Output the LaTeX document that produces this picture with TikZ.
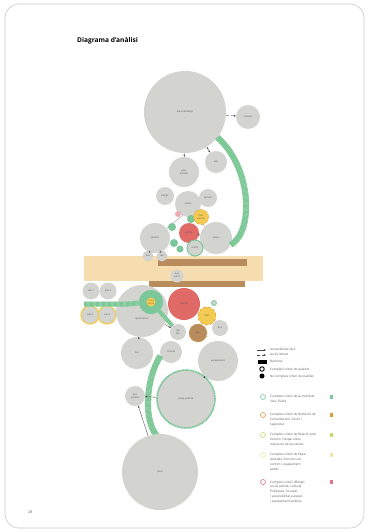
\documentclass[tikz,border=0pt]{standalone}
\usepackage{fontspec}
\setmainfont{Open Sans}
\usetikzlibrary{arrows.meta}
\definecolor{cg}{HTML}{D3D3D0}
\definecolor{txt}{HTML}{555555}
\definecolor{dk}{HTML}{444444}
\definecolor{gl}{HTML}{9ED8B0}
\definecolor{gd}{HTML}{6DBF8A}
\definecolor{gm}{HTML}{7CC79A}
\definecolor{rd}{HTML}{E06A66}
\definecolor{yl}{HTML}{F3CB52}
\definecolor{orr}{HTML}{E39A3C}
\definecolor{bg}{HTML}{F6DDB0}
\definecolor{br}{HTML}{B98C5E}
\definecolor{yg}{HTML}{C5D96A}
\definecolor{ly}{HTML}{F0E6A6}
\definecolor{pk}{HTML}{E07384}
\definecolor{frm}{HTML}{C8C8C8}
\newcommand\dlbl{\fontsize{2.4}{2.8}\selectfont}
\newcommand\leglbl{\fontsize{3.1}{4.9}\selectfont}
\begin{document}
\begin{tikzpicture}[x=1pt,y=-1pt,
  gc/.style={circle,fill=cg,inner sep=0pt,minimum size=#1pt,font=\dlbl,align=center,text=txt},
  yc/.style={circle,fill=yl,draw=orr,densely dashed,line width=0.5pt,inner sep=0pt,minimum size=#1pt,font=\dlbl,align=center,text=txt},
  yr/.style={circle,fill=cg,draw=yl,dash pattern=on 1pt off 0.4pt,line width=1.4pt,inner sep=0pt,minimum size=#1pt,font=\dlbl,align=center,text=txt},
  gr/.style={circle,fill=gm,inner sep=0pt,minimum size=#1pt},
  ar/.style={-{Stealth[length=2.2pt,width=1.8pt]},draw=dk,line width=0.35pt},
  gband/.style={line width=#1pt,draw=gl},
  gstripe/.style={line width=#1pt,draw=gd,dash pattern=on 0.5pt off 0.7pt},
  legtxt/.style={anchor=north west,font=\leglbl,align=left,text=txt,inner sep=0pt}]
\useasboundingbox (0,0) rectangle (369,532);
\fill[white] (0,0) rectangle (369,532);
\draw[frm,line width=0.6pt,rounded corners=14pt] (5,4) rectangle (364,528);
\node[anchor=south west,inner sep=0pt,font=\fontsize{6.6}{8}\selectfont\bfseries] (title) at (77,44) {Diagrama d'anàlisi};
\node[anchor=base west,inner sep=0pt,font=\fontsize{3.6}{4}\selectfont,text=txt] (pnum) at (28,513) {28};

% beige band and barriers
\fill[bg] (84,256) rectangle (263,281);
\fill[br] (158,259) rectangle (247,266);
\fill[br] (149,281) rectangle (245,287);

% top cluster
\node[gc=82] (ah) at (185,112) {àrea habitatge};
\node[gc=24] (com) at (248,117) {comerç};
\node[gc=30] (pe) at (184,172) {parc\\escoles};
\node[gc=22] (bar) at (216,162) {bar};
\draw[ar,densely dashed] (ah) -- (com);
\draw[ar] (ah) -- (pe);
\draw[ar,{Stealth[length=2.2pt,width=1.8pt]}-{Stealth[length=2.2pt,width=1.8pt]}] (ah) -- (bar);

% middle cluster
\node[gc=30] (jar) at (155,238) {jardins};
\node[gc=32] (plc) at (216,238) {plaça};
\node[gc=18] (bot) at (165,196) {botiga};
\node[gc=18] (ser) at (208,198) {serveis};
\draw[cg!80!black,line width=0.5pt] (189,210) -- (jar);
\draw[cg!80!black,line width=0.5pt] (189,210) -- (plc);
\node[gc=26] (vei) at (188,204) {veïnat};
\node[circle,fill=pk!60,inner sep=0pt,minimum size=6pt] (pk1) at (178,214) {};
\node[gr=8] (g1) at (172,227) {};
\node[gr=8] (g2) at (191,219) {};
\node[gr=8] (g3) at (174,243) {};
\node[gr=7] (g4) at (180,249) {};
\node[circle,fill=rd,inner sep=0pt,minimum size=20pt,font=\dlbl,text=txt] (esc) at (189,233) {escola};
\node[yc=15] (fon) at (201,217) {font\\central};
\node[circle,fill=cg,draw=gm,line width=1pt,inner sep=0pt,minimum size=16pt,font=\dlbl,text=txt] (met) at (195,248) {metro};
\node[gc=11] (bus) at (148,256) {bus};
\node[gc=11] (tax) at (162,256) {taxi};
\draw[ar] (jar) -- (bus);
\draw[ar] (jar) -- (tax);
\draw[ar] (esc) -- (plc);
\node[gc=13] (nus) at (177,276) {nus\\pont};

% top green band
\draw[gband=6] (ah.-38) .. controls (252,168) and (254,232) .. (plc.-25);
\draw[gstripe=6] (ah.-38) .. controls (252,168) and (254,232) .. (plc.-25);

% lower cluster
\node[gc=17] (v1) at (91,291) {vial 1};
\node[gc=17] (v2) at (108,291) {vial 2};
\node[yr=18] (v3) at (90,315) {vial 3};
\node[yr=18] (v4) at (107,315) {vial 4};
\node[gc=52] (apa) at (142,311) {\\[14pt]aparcament};
\coordinate (gs) at (84,304);
\coordinate (gm1) at (128,304);
\node[gc=16] (txb) at (178,332) {taxi\\bici};
\node[gr=24] (zv) at (151,302) {};
\draw[gband=5] (gs) -- (gm1) -- (zv);
\draw[gstripe=5] (gs) -- (gm1) -- (zv);
\draw[gband=4] (zv) -- (txb);
\draw[gstripe=4] (zv) -- (txb);
\node[gr=24] (zv2) at (151,302) {};
\node[circle,fill=yl,inner sep=0pt,minimum size=9pt,font=\dlbl,text=orr!70!black,align=center] (zvi) at (151,302) {zona\\verda};
\node[circle,fill=rd,inner sep=0pt,minimum size=32pt,font=\dlbl,text=txt] (mer) at (184,304) {mercat};
\node[yc=18] (fn2) at (207,316) {font};
\node[circle,fill=br,draw=orr,densely dashed,line width=0.4pt,inner sep=0pt,minimum size=18pt,font=\dlbl,text=txt] (bic) at (198,333) {bici};
\node[gc=16] (bs2) at (220,328) {bus};
\node[circle,fill=cg,draw=gm,line width=0.8pt,inner sep=0pt,minimum size=5pt] (sm1) at (214,303) {};
\draw[ar] (apa) -- (txb);
\node[gc=32] (bar2) at (137,353) {bar};
\node[gc=22] (cin) at (171,352) {cinema};
\node[gc=40] (equ) at (218,361) {equipament};
\draw[ar] (apa) -- (bar2);

% lower green band
\draw[gband=6] (cin.200) .. controls (146,378) and (143,420) .. (157,436);
\draw[gstripe=6] (cin.200) .. controls (146,378) and (143,420) .. (157,436);
\node[gc=58,draw=gm,line width=1.6pt,dash pattern=on 1.2pt off 0.5pt] (pp) at (186,399) {plaça pública};
\node[gc=20] (bp) at (135,396) {bus\\parada};
\node[gc=76] (jd) at (160,472) {jardí};
\draw[ar] (equ) -- (pp);
\draw[ar] (pp) -- (bp);
\draw[ar] (jd) -- (bp);

% legend
\coordinate (la1) at (257,350);
\coordinate (lb1) at (266,350);
\coordinate (la2) at (257,355);
\coordinate (lb2) at (266,355);
\draw[ar] (la1) -- (lb1);
\draw[ar,densely dashed] (la2) -- (lb2);
\node[legtxt] (l1) at (270,348) {Accessibilitat fàcil};
\node[legtxt] (l2) at (270,353) {Accés limitat};
\fill[black] (258,360) rectangle (267,364);
\node[legtxt] (l3) at (270,360.5) {Barreres};
\node[circle,draw=black,line width=0.9pt,fill=white,inner sep=0pt,minimum size=4.5pt] (m4) at (262,369) {};
\node[legtxt] (l4) at (270,367.5) {Compleix criteri de qualitat};
\node[circle,fill=black,inner sep=0pt,minimum size=5pt] (m5) at (262,376) {};
\node[legtxt] (l5) at (270,374.5) {No compleix criteri de qualitat};

\node[circle,draw=gm,line width=0.6pt,inner sep=0pt,minimum size=5pt] (m6) at (263,397) {};
\node[legtxt] (l6) at (270,395) {Compleix criteri de la mobilitat\\llisa i fluïda};
\fill[gm] (330,395) rectangle (333,399);
\node[circle,draw=orr,line width=0.6pt,inner sep=0pt,minimum size=5pt] (m7) at (263,415) {};
\node[legtxt] (l7) at (270,413) {Compleix criteri de Reducció de\\Contaminació, Soroll i\\Seguretat};
\fill[orr] (330,413) rectangle (333,417);
\node[circle,draw=yg,line width=0.6pt,inner sep=0pt,minimum size=5pt] (m8) at (263,435) {};
\node[legtxt] (l8) at (270,433) {Compleix criteri de Relació amb\\l'entorn i l'espai urbà i\\interacció de les xarxes};
\fill[yg] (330,433) rectangle (333,437);
\node[circle,draw=ly,line width=0.6pt,inner sep=0pt,minimum size=5pt] (m9) at (263,455) {};
\node[legtxt] (l9) at (270,453) {Compleix criteri de Espai\\d'estada i funcions de\\confort i equipament\\públic};
\fill[ly] (330,453) rectangle (333,457);
\node[circle,draw=pk,line width=0.6pt,inner sep=0pt,minimum size=5pt] (m10) at (263,482) {};
\node[legtxt] (l10) at (270,480) {Compleix criteri d'Àmbit\\social (veïnat, cultura)\\Polítiques, Societat\\i accessibilitat a espais\\i equipaments públics};
\fill[pk] (330,480) rectangle (333,484);
\end{tikzpicture}
\end{document}
